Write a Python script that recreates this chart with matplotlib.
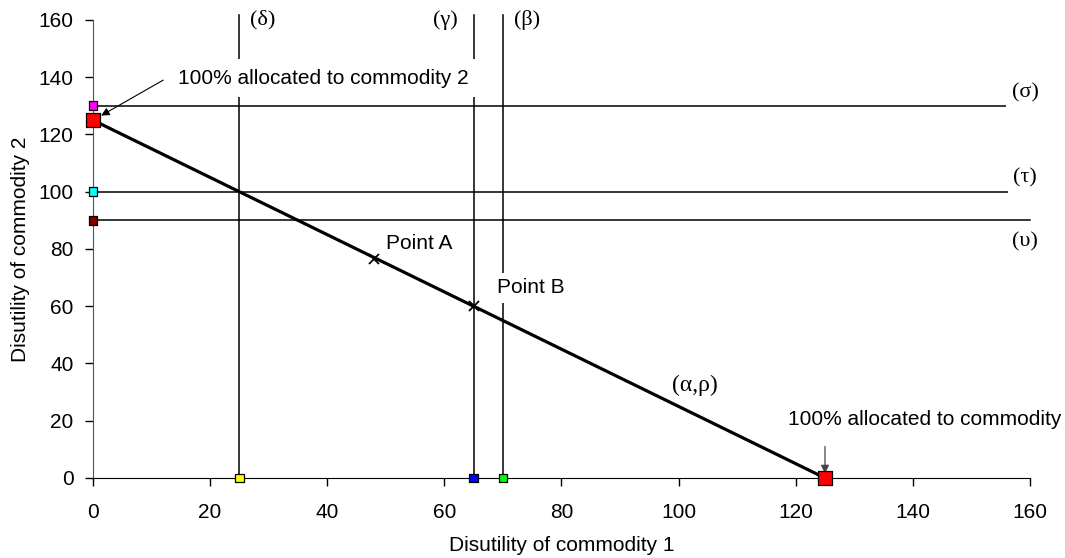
import matplotlib
matplotlib.use('Agg')
from matplotlib import pyplot as plt

plt.rcParams['font.family'] = ['Liberation Sans', 'DejaVu Sans']

# constraint lines
vert_x = [25, 65, 70]
vert_labels = ['(δ)', '(γ)', '(β)']
vert_label_x = [28.9, 60.1, 74.1]

horiz_y = [130, 100, 90]
horiz_labels = ['(σ)', '(τ)', '(υ)']
horiz_label_y = [134.5, 105, 82.4]

# budget line (α,ρ)
budget_x = [0, 125]
budget_y = [125, 0]

# small squares on the axes
axis_pts_x = [0, 0, 0, 25, 65, 70]
axis_pts_y = [130, 100, 90, 0, 0, 0]
axis_pts_c = ['#ff00ff', '#00ffff', '#800000', '#ffff00', '#0000ff', '#00ff00']

# interior points
pts_x = [48, 65]
pts_y = [76.5, 60]
pts_labels = ['Point A', 'Point B']
pts_label_xy = [(50, 82), (69, 66.4)]

xticks = [0, 20, 40, 60, 80, 100, 120, 140, 160]
yticks = [0, 20, 40, 60, 80, 100, 120, 140, 160]

fig = plt.figure(figsize=(10.65, 5.58), dpi=100)
ax = fig.add_axes([0.0873, 0.1434, 0.8798, 0.8208])

bbox = dict(fc='white', ec='none', pad=4)
serif = ['Liberation Serif', 'DejaVu Serif']

for x, lab, lx in zip(vert_x, vert_labels, vert_label_x):
    ax.plot([x, x], [0, 161.6], color='black', lw=1.1, zorder=2, clip_on=False)
    ax.text(lx, 160, lab, ha='center', va='center', fontsize=16, family=serif, zorder=5)

for y, lab, ly in zip(horiz_y, horiz_labels, horiz_label_y):
    ax.plot([0, 160], [y, y], color='black', lw=1.1, zorder=2, clip_on=False)
    ax.text(159.2, ly, lab, ha='center', va='center', fontsize=16, family=serif,
            bbox=bbox, zorder=5)

ax.plot(budget_x, budget_y, color='black', lw=2.3, zorder=3, clip_on=False)
ax.text(98.9, 32.5, '(α,ρ)', ha='left', va='center', fontsize=17, family=serif,
        bbox=dict(fc='white', ec='none', pad=1), zorder=5)

ax.plot(pts_x, pts_y, ls='none', marker='x', ms=7, mew=1.3, color='black', zorder=4)
for lab, (lx, ly) in zip(pts_labels, pts_label_xy):
    ax.text(lx, ly, lab, ha='left', va='center', fontsize=15, bbox=bbox, zorder=5)

ax.scatter(axis_pts_x, axis_pts_y, marker='s', s=40, c=axis_pts_c,
           edgecolors='black', linewidths=0.9, zorder=6, clip_on=False)
ax.scatter(budget_x, budget_y, marker='s', s=110, c='#ff0000',
           edgecolors='black', linewidths=0.9, zorder=7, clip_on=False)

ax.text(14.5, 139.7, '100% allocated to commodity 2', ha='left', va='center',
        fontsize=15, bbox=dict(fc='white', ec='none', pad=7), zorder=5)
ax.annotate('', xy=(1.4, 126.6), xytext=(12, 139),
            arrowprops=dict(arrowstyle='-|>', color='black', lw=0.8,
                            mutation_scale=12, shrinkA=0, shrinkB=0), zorder=6)

ax.text(118.7, 20.3, '100% allocated to commodity', ha='left', va='center',
        fontsize=15, zorder=5)
ax.annotate('', xy=(125, 1.6), xytext=(125, 11),
            arrowprops=dict(arrowstyle='-|>', color='#444444', lw=0.9,
                            mutation_scale=12, shrinkA=0, shrinkB=0), zorder=6)

ax.set_xlim(0, 160)
ax.set_ylim(0, 160)
ax.set_xticks(xticks)
ax.set_yticks(yticks)
ax.tick_params(axis='x', direction='out', length=6, width=1, pad=12, labelsize=15)
ax.tick_params(axis='y', direction='out', length=6, width=1, pad=8, labelsize=15)
for side in ['top', 'right']:
    ax.spines[side].set_visible(False)
ax.spines['left'].set_color('#555555')
ax.spines['bottom'].set_color('black')

ax.set_xlabel('Disutility of commodity 1', fontsize=15, labelpad=10)
ax.set_ylabel('Disutility of commodity 2', fontsize=15, labelpad=6)

plt.savefig('out.png', dpi=100)
